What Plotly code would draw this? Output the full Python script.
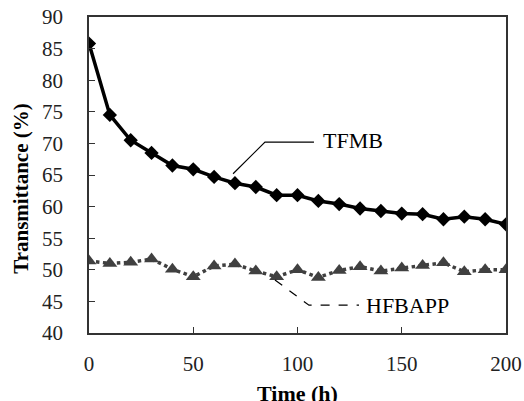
import plotly.graph_objects as go

time_h = [0, 10, 20, 30, 40, 50, 60, 70, 80, 90, 100, 110, 120, 130, 140, 150, 160, 170, 180, 190, 200]
tfmb = [85.8, 74.5, 70.5, 68.5, 66.5, 65.9, 64.7, 63.7, 63.1, 61.8, 61.8, 60.9, 60.4, 59.7, 59.3, 58.9, 58.8, 58.0, 58.4, 58.0, 57.2]
hfbapp = [51.4, 51.0, 51.2, 51.7, 50.1, 48.9, 50.6, 50.9, 49.8, 48.9, 50.0, 48.8, 49.9, 50.5, 49.8, 50.3, 50.7, 51.1, 49.7, 50.0, 50.0]

font_family = "Liberation Serif, Times New Roman, serif"

fig = go.Figure()
fig.add_trace(go.Scatter(
    x=time_h, y=hfbapp, mode="lines+markers", name="HFBAPP",
    line=dict(color="#404040", width=3.5, dash="dot"),
    marker=dict(symbol="triangle-up", size=13, color="#404040"),
))
fig.add_trace(go.Scatter(
    x=time_h, y=tfmb, mode="lines+markers", name="TFMB",
    line=dict(color="black", width=3.5),
    marker=dict(symbol="diamond", size=11, color="black"),
))

# Leader lines
fig.add_shape(type="path", path="M 69.1,65.2 L 84.4,70.2 L 107.9,70.2",
              line=dict(color="black", width=1.2))
fig.add_shape(type="path", path="M 89.2,48.4 L 105.5,44.4 L 129.5,44.4",
              line=dict(color="black", width=1.2, dash="dash"))
fig.add_annotation(x=111.3, y=70.4, text="TFMB", showarrow=False, xanchor="left",
                   font=dict(family=font_family, size=22, color="black"))
fig.add_annotation(x=131.9, y=44.4, text="HFBAPP", showarrow=False, xanchor="left",
                   font=dict(family=font_family, size=22, color="black"))

# Axis titles
fig.add_annotation(xref="paper", yref="paper", x=0.5, y=-0.146, xanchor="center", yanchor="top",
                   text="<b>Time (h)</b>", showarrow=False,
                   font=dict(family=font_family, size=22, color="black"))
fig.add_annotation(xref="paper", yref="paper", x=-0.165, y=0.457, xanchor="center", yanchor="middle",
                   textangle=-90, text="<b>Transmittance (%)</b>", showarrow=False,
                   font=dict(family=font_family, size=21, color="black"))

fig.update_layout(
    width=524, height=401,
    margin=dict(l=89, r=18, t=17, b=68, autoexpand=False),
    paper_bgcolor="white", plot_bgcolor="white",
    showlegend=False,
    font=dict(family=font_family, color="black"),
)
fig.update_xaxes(
    range=[0, 200], tickvals=[0, 50, 100, 150, 200],
    ticks="inside", ticklen=6, tickcolor="#333", tickwidth=1,
    showline=True, linecolor="#333", linewidth=1.5, mirror=True,
    showgrid=False, zeroline=False, automargin=False,
    tickfont=dict(family=font_family, size=21, color="#222"),
    ticklabelstandoff=11, ticklabeloverflow="allow",
)
fig.update_yaxes(
    range=[40, 90], tickvals=[40, 45, 50, 55, 60, 65, 70, 75, 80, 85, 90],
    ticks="inside", ticklen=6, tickcolor="#333", tickwidth=1,
    showline=True, linecolor="#333", linewidth=1.5, mirror=True,
    showgrid=False, zeroline=False, automargin=False,
    tickfont=dict(family=font_family, size=21, color="#222"),
    ticklabelstandoff=20, ticklabeloverflow="allow",
)

# Remove the default page margin so the figure fills the window exactly
fig.write_html("out.html", config={"displayModeBar": False},
               post_script="document.body.style.margin='0';document.body.style.overflow='hidden';")
